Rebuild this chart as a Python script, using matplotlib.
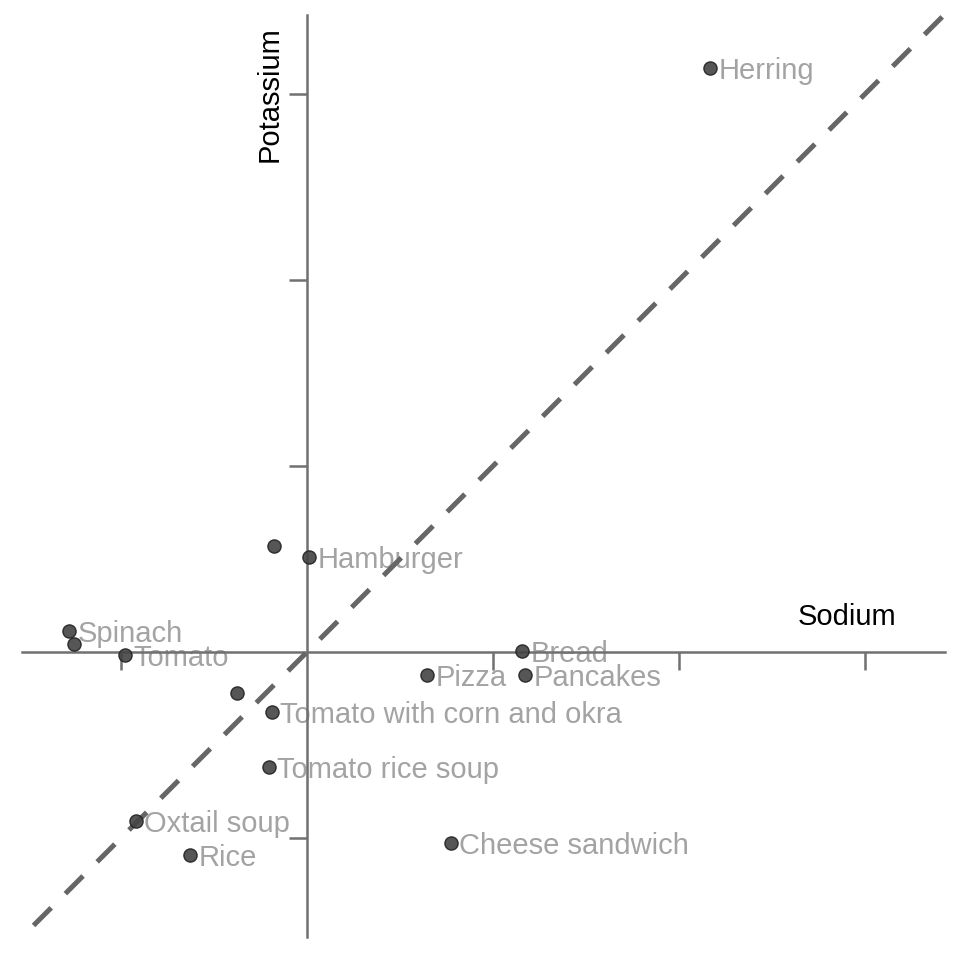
import matplotlib.pyplot as plt

plt.rcParams['font.family'] = ['Liberation Sans', 'DejaVu Sans']

# standardized sodium (x) vs potassium (y)
foods = ["Herring", "Hamburger", "", "Spinach", "", "Tomato", "Bread", "Pizza",
         "Pancakes", "", "Tomato with corn and okra", "Tomato rice soup",
         "Oxtail soup", "Rice", "Cheese sandwich"]
sodium = [2.167, 0.011, -0.177, -1.280, -1.253, -0.978, 1.156, 0.645,
          1.172, -0.376, -0.188, -0.204, -0.919, -0.629, 0.774]
potassium = [3.140, 0.511, 0.570, 0.113, 0.043, -0.016, 0.005, -0.124,
             -0.124, -0.220, -0.323, -0.618, -0.909, -1.091, -1.027]
diag = [-1.47, 3.43]
ticks = [-1, 1, 2, 3]

fig = plt.figure(figsize=(9.6, 9.6), dpi=100)
ax = fig.add_axes([22 / 960, 23 / 960, 923 / 960, 922 / 960])
ax.set_xlim(-1.532, 3.430)
ax.set_ylim(-1.532, 3.425)

axis_col = '#707070'
for s in ['top', 'right']:
    ax.spines[s].set_visible(False)
for s in ['left', 'bottom']:
    ax.spines[s].set_position('zero')
    ax.spines[s].set_color(axis_col)
    ax.spines[s].set_linewidth(1.8)
    ax.spines[s].set_zorder(2)

ax.set_xticks(ticks)
ax.set_yticks(ticks)
ax.set_xticklabels([])
ax.set_yticklabels([])
ax.tick_params(direction='out', length=13, width=1.8, color=axis_col)

ax.plot(diag, diag, color='#666666', lw=3.6, linestyle=(0, (5.0, 4.0)),
        zorder=3, solid_capstyle='butt')

ax.scatter(sodium, potassium, s=90, color='#444444', edgecolors='#222222',
           linewidths=1, alpha=0.9, zorder=4)

for name, x, y in zip(foods, sodium, potassium):
    if name:
        ax.annotate(name, (x, y), xytext=(6, 0), textcoords='offset points',
                    ha='left', va='center_baseline', fontsize=21,
                    color='#a3a3a3', zorder=1)

ax.text(847 / 960, 1 - 617 / 960, "Sodium", transform=fig.transFigure,
        ha='center', va='center', fontsize=21, color='black')
ax.text(270 / 960, 1 - 94 / 960, "Potassium", transform=fig.transFigure,
        ha='center', va='center', fontsize=21, color='black', rotation=90)

fig.savefig('out.png', dpi=100)
